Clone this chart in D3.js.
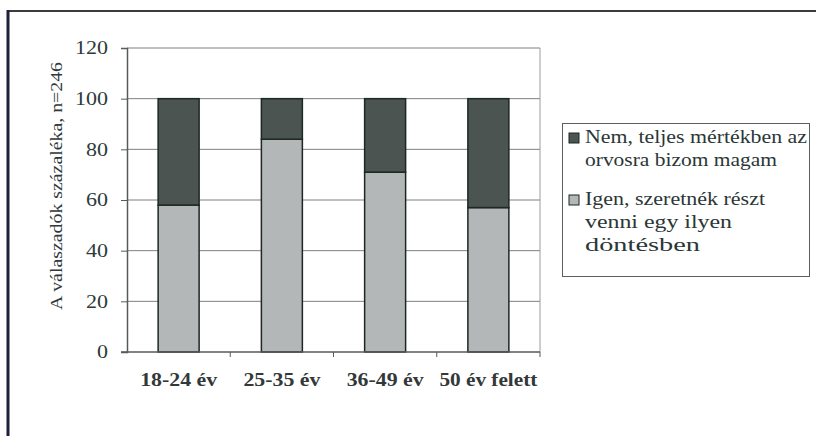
<!DOCTYPE html>
<html>
<head>
<meta charset="utf-8">
<script src="https://cdn.jsdelivr.net/npm/d3@7"></script>
<style>
  html, body { margin: 0; padding: 0; background: #fff; }
  svg { display: block; }
  svg text { font-family: "Liberation Serif", "Times New Roman", serif !important; }
</style>
</head>
<body>
<svg id="chart" width="816" height="436"></svg>
<script>
// Age groups and the share of answers per group (percent)
const categories = ["18-24 év", "25-35 év", "36-49 év", "50 év felett"];
const igen = [58, 84, 71, 57];   // Igen, szeretnék részt venni egy ilyen döntésben
const nem = [42, 16, 29, 43];    // Nem, teljes mértékben az orvosra bizom magam
const yTicks = [0, 20, 40, 60, 80, 100, 120];
const yTitle = "A válaszadók százaléka, n=246";
const legendItems = [
  { lines: ["Nem, teljes mértékben az", "orvosra bizom magam"], widths: [222, 192], key: "nem" },
  { lines: ["Igen, szeretnék részt", "venni egy ilyen", "döntésben"], widths: [180, 147, 115], key: "igen" }
];
const labelWidths = [77, 77, 77, 98];

const serif = "'Liberation Serif', 'Times New Roman', serif";
const colors = { igen: "#b3b7b7", nem: "#4b5450" };
const svg = d3.select("#chart");

// outer frame (top and left edges only)
svg.append("line").attr("x1", 8).attr("x2", 816).attr("y1", 11).attr("y2", 11)
  .attr("stroke", "#3a3d3d").attr("stroke-width", 2);
svg.append("line").attr("x1", 8).attr("x2", 8).attr("y1", 10).attr("y2", 436)
  .attr("stroke", "#1e1f3a").attr("stroke-width", 3);

const plotLeft = 127, plotRight = 540, plotTop = 48, plotBottom = 352;
const y = d3.scaleLinear().domain([0, 120]).range([plotBottom, plotTop]);
const x = d3.scaleBand().domain(categories).range([plotLeft, plotRight])
  .paddingInner(0.603).paddingOuter(0.3015);

// gridlines
svg.append("g").selectAll("line").data(yTicks.filter(d => d > 0)).join("line")
  .attr("x1", plotLeft).attr("x2", plotRight)
  .attr("y1", d => y(d)).attr("y2", d => y(d))
  .attr("stroke", "#7d8080").attr("stroke-width", 1);
// right edge of plot area
svg.append("line").attr("x1", plotRight).attr("x2", plotRight).attr("y1", plotTop).attr("y2", plotBottom)
  .attr("stroke", "#9a9d9d").attr("stroke-width", 1);

// stacked bars
const rows = categories.map((c, i) => ({ cat: c, igen: igen[i], nem: nem[i] }));
const stack = d3.stack().keys(["igen", "nem"])(rows);
svg.append("g").selectAll("g").data(stack).join("g")
  .attr("fill", s => colors[s.key])
  .selectAll("rect").data(s => s).join("rect")
  .attr("x", d => x(d.data.cat))
  .attr("width", x.bandwidth())
  .attr("y", d => y(d[1]))
  .attr("height", d => y(d[0]) - y(d[1]))
  .attr("stroke", "#1c2824").attr("stroke-width", 1.5);

// y axis
const yAxis = svg.append("g").attr("transform", `translate(${plotLeft},0)`)
  .call(d3.axisLeft(y).tickValues(yTicks).tickSize(6).tickPadding(13));
yAxis.attr("font-family", null);
yAxis.select(".domain").attr("stroke", "#555a5a").attr("stroke-width", 1.5);
yAxis.selectAll(".tick line").attr("stroke", "#555a5a");
yAxis.selectAll(".tick text")
  .style("font-family", serif).attr("font-size", 18)
  .attr("fill", "#2e3a3a")
  .attr("textLength", d => String(d).length * 11).attr("lengthAdjust", "spacingAndGlyphs");

// x axis baseline and tick marks between categories
const xAxis = svg.append("g").attr("transform", `translate(0,${plotBottom})`);
xAxis.append("line").attr("x1", plotLeft - 6).attr("x2", plotRight).attr("stroke", "#555a5a").attr("stroke-width", 1.5);
const boundaries = categories.slice(1).map(c => x(c) - x.step() * x.paddingInner() / 2).concat([plotRight]);
xAxis.selectAll(".bt").data(boundaries).join("line").attr("class", "bt")
  .attr("x1", d => d).attr("x2", d => d).attr("y1", 0).attr("y2", 5)
  .attr("stroke", "#555a5a");
xAxis.selectAll(".lbl").data(categories).join("text").attr("class", "lbl")
  .attr("x", d => x(d) + x.bandwidth() / 2).attr("y", 34)
  .attr("text-anchor", "middle").attr("font-size", 18).attr("font-weight", "bold")
  .style("font-family", serif).attr("fill", "#333838")
  .attr("textLength", (d, i) => labelWidths[i]).attr("lengthAdjust", "spacingAndGlyphs")
  .text(d => d);

// y axis title
svg.append("text").attr("transform", "translate(62,186) rotate(-90)")
  .attr("text-anchor", "middle").attr("font-size", 17)
  .style("font-family", serif).attr("fill", "#2e3838")
  .attr("textLength", 248).attr("lengthAdjust", "spacingAndGlyphs")
  .text(yTitle);

// legend
const lg = svg.append("g");
lg.append("rect").attr("x", 562.5).attr("y", 123.5).attr("width", 247).attr("height", 153)
  .attr("fill", "#fff").attr("stroke", "#5a5e5e").attr("stroke-width", 1);
const startY = [143, 205];
legendItems.forEach((item, k) => {
  lg.append("rect").attr("x", 569).attr("y", startY[k] - 10).attr("width", 10).attr("height", 10)
    .attr("fill", colors[item.key]).attr("stroke", "#1c2824").attr("stroke-width", 1);
  item.lines.forEach((t, j) => {
    lg.append("text").attr("x", 585).attr("y", startY[k] + j * 23)
      .attr("font-size", 18).attr("fill", "#2b3636")
      .style("font-family", serif)
      .attr("textLength", item.widths[j]).attr("lengthAdjust", "spacingAndGlyphs")
      .text(t);
  });
});
</script>
</body>
</html>
